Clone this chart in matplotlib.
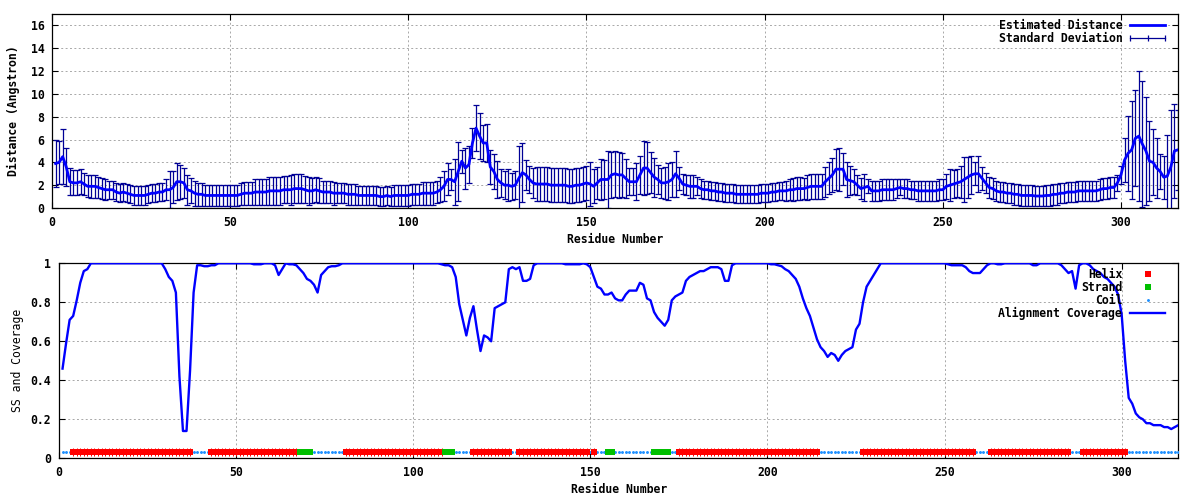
import numpy as np
import matplotlib
matplotlib.use('Agg')
import matplotlib.pyplot as plt
from matplotlib.lines import Line2D
from matplotlib.legend_handler import HandlerLine2D
from matplotlib.ticker import FuncFormatter

plt.rcParams['font.family'] = ['DejaVu Sans Mono']
plt.rcParams['font.weight'] = 'bold'
plt.rcParams['axes.labelweight'] = 'bold'
plt.rcParams['font.size'] = 8.3

# per residue data (residue 1..316)
residues = np.arange(1, 317)

distance = [
    3.9, 4.0, 4.5, 3.6, 2.3, 2.2, 2.2, 2.3, 2.1, 1.9,
    1.9, 1.9, 1.8, 1.7, 1.6, 1.6, 1.6, 1.4, 1.3, 1.4,
    1.3, 1.2, 1.1, 1.1, 1.1, 1.1, 1.2, 1.3, 1.3, 1.4,
    1.4, 1.6, 1.6, 1.8, 2.3, 2.3, 2.2, 1.6, 1.5, 1.3,
    1.2, 1.2, 1.1, 1.1, 1.1, 1.1, 1.1, 1.1, 1.1, 1.1,
    1.1, 1.1, 1.2, 1.3, 1.3, 1.3, 1.4, 1.4, 1.4, 1.4,
    1.5, 1.5, 1.5, 1.5, 1.6, 1.6, 1.6, 1.7, 1.7, 1.7,
    1.6, 1.5, 1.5, 1.6, 1.5, 1.4, 1.4, 1.4, 1.3, 1.3,
    1.3, 1.3, 1.2, 1.2, 1.2, 1.1, 1.1, 1.1, 1.1, 1.1,
    1.1, 1.0, 1.0, 1.1, 1.0, 1.1, 1.1, 1.1, 1.1, 1.1,
    1.2, 1.2, 1.2, 1.3, 1.3, 1.3, 1.3, 1.4, 1.6, 1.9,
    2.5, 2.5, 2.3, 3.2, 4.1, 3.5, 3.8, 5.7, 7.0, 6.3,
    5.7, 5.7, 3.6, 3.2, 2.5, 2.2, 2.0, 2.0, 1.9, 2.0,
    2.6, 3.1, 2.9, 2.5, 2.2, 2.1, 2.1, 2.1, 2.1, 2.0,
    2.0, 2.0, 2.0, 2.0, 1.9, 1.9, 2.0, 2.0, 2.1, 2.2,
    2.1, 1.9, 2.2, 2.5, 2.5, 2.5, 2.9, 3.0, 2.9, 2.9,
    2.6, 2.3, 2.3, 2.3, 2.9, 3.5, 3.5, 3.1, 2.7, 2.5,
    2.2, 2.2, 2.3, 2.5, 3.0, 2.6, 2.1, 2.0, 1.9, 1.9,
    1.9, 1.7, 1.6, 1.6, 1.5, 1.5, 1.4, 1.4, 1.3, 1.3,
    1.3, 1.2, 1.2, 1.2, 1.2, 1.2, 1.2, 1.2, 1.3, 1.3,
    1.3, 1.4, 1.4, 1.5, 1.5, 1.5, 1.6, 1.6, 1.7, 1.7,
    1.7, 1.8, 1.9, 1.9, 1.9, 1.9, 2.3, 2.6, 2.9, 3.4,
    3.4, 3.4, 2.5, 2.4, 2.3, 2.0, 1.7, 1.8, 1.9, 1.5,
    1.5, 1.5, 1.6, 1.6, 1.6, 1.6, 1.7, 1.8, 1.7, 1.7,
    1.6, 1.6, 1.5, 1.5, 1.5, 1.5, 1.5, 1.5, 1.6, 1.6,
    1.9, 2.0, 2.1, 2.2, 2.3, 2.5, 2.7, 2.9, 3.0, 3.0,
    2.6, 2.2, 1.8, 1.7, 1.5, 1.4, 1.4, 1.3, 1.3, 1.2,
    1.2, 1.1, 1.1, 1.1, 1.1, 1.05, 1.05, 1.05, 1.1, 1.1,
    1.2, 1.2, 1.3, 1.3, 1.4, 1.4, 1.4, 1.5, 1.5, 1.5,
    1.5, 1.5, 1.5, 1.6, 1.7, 1.7, 1.8, 1.8, 2.2, 2.9,
    4.2, 4.8, 5.1, 6.1, 6.3, 5.6, 5.0, 4.1, 4.0, 3.5,
    3.2, 2.7, 2.8, 3.6, 5.0, 5.1,
]

std_dev = [
    2.1, 1.9, 2.4, 1.7, 1.2, 1.1, 1.1, 1.1, 1.0, 0.95,
    1.0, 1.0, 0.9, 0.9, 0.9, 0.8, 0.8, 0.8, 0.8, 0.8,
    0.8, 0.8, 0.8, 0.8, 0.8, 0.8, 0.8, 0.8, 0.8, 0.8,
    0.8, 0.9, 1.6, 1.4, 1.6, 1.5, 1.3, 1.3, 1.1, 1.1,
    1.0, 1.0, 0.9, 0.9, 0.9, 0.9, 0.9, 0.9, 0.9, 0.9,
    0.95, 0.95, 0.95, 1.0, 1.0, 1.0, 1.1, 1.1, 1.1, 1.1,
    1.2, 1.2, 1.2, 1.2, 1.2, 1.2, 1.3, 1.3, 1.3, 1.3,
    1.2, 1.2, 1.1, 1.1, 1.1, 1.0, 1.0, 1.0, 1.0, 0.9,
    0.9, 0.9, 0.9, 0.9, 0.9, 0.8, 0.8, 0.8, 0.8, 0.8,
    0.8, 0.8, 0.8, 0.8, 0.8, 0.9, 0.9, 0.9, 0.9, 0.9,
    0.9, 0.9, 0.9, 1.0, 1.0, 1.0, 1.0, 1.0, 1.1, 1.3,
    1.4, 0.9, 2.0, 2.6, 1.0, 1.8, 1.6, 1.3, 2.0, 2.0,
    1.6, 1.7, 1.5, 1.5, 1.6, 1.2, 1.2, 1.4, 1.2, 1.2,
    2.8, 2.6, 1.3, 1.2, 1.3, 1.5, 1.5, 1.5, 1.5, 1.5,
    1.5, 1.5, 1.5, 1.5, 1.5, 1.5, 1.5, 1.5, 1.5, 1.5,
    1.9, 1.5, 1.4, 1.8, 1.7, 2.5, 2.0, 2.0, 2.0, 1.9,
    1.7, 1.2, 1.2, 1.6, 1.7, 2.4, 2.3, 1.8, 1.7, 1.3,
    1.3, 1.4, 1.6, 1.5, 2.0, 1.0, 0.9, 0.9, 1.0, 1.0,
    0.8, 0.8, 0.8, 0.8, 0.8, 0.8, 0.8, 0.8, 0.8, 0.8,
    0.8, 0.8, 0.8, 0.8, 0.8, 0.8, 0.8, 0.8, 0.8, 0.8,
    0.8, 0.8, 0.8, 0.8, 0.8, 0.9, 0.9, 1.0, 1.0, 1.0,
    0.9, 1.1, 1.1, 1.1, 1.1, 1.1, 1.3, 1.4, 1.5, 1.8,
    1.9, 1.4, 1.5, 1.3, 1.1, 0.9, 0.9, 1.2, 0.6, 0.9,
    0.9, 0.9, 0.9, 0.9, 0.9, 0.9, 0.8, 0.7, 0.8, 0.8,
    0.8, 0.8, 0.9, 0.9, 0.9, 0.9, 0.9, 0.9, 0.9, 0.9,
    1.1, 1.4, 1.2, 1.2, 1.4, 2.0, 1.8, 1.7, 1.0, 1.6,
    1.0, 0.9, 0.9, 0.9, 0.9, 0.9, 0.9, 0.9, 0.9, 0.9,
    0.9, 0.9, 0.9, 0.9, 0.9, 0.9, 0.9, 0.9, 0.9, 0.9,
    0.9, 0.9, 0.9, 0.9, 0.9, 0.9, 0.9, 0.9, 0.9, 0.9,
    0.9, 0.9, 0.9, 0.9, 0.9, 0.9, 0.9, 0.9, 0.7, 0.8,
    1.9, 3.3, 4.3, 4.2, 5.7, 5.5, 4.7, 3.5, 2.9, 2.6,
    1.5, 1.9, 3.6, 5.0, 4.1, 3.5,
]

coverage = [
    0.46, 0.59, 0.71, 0.73, 0.81, 0.90, 0.96, 0.97, 1.0, 1.0,
    1.0, 1.0, 1.0, 1.0, 1.0, 1.0, 1.0, 1.0, 1.0, 1.0,
    1.0, 1.0, 1.0, 1.0, 1.0, 1.0, 1.0, 1.0, 1.0, 0.97,
    0.93, 0.91, 0.85, 0.42, 0.14, 0.14, 0.45, 0.85, 0.99, 0.99,
    0.985, 0.985, 0.99, 0.99, 1.0, 1.0, 1.0, 1.0, 1.0, 1.0,
    1.0, 1.0, 1.0, 1.0, 0.995, 0.995, 0.995, 1.0, 1.0, 1.0,
    0.99, 0.94, 0.97, 1.0, 0.995, 0.995, 0.99, 0.97, 0.95, 0.92,
    0.91, 0.89, 0.85, 0.94, 0.96, 0.98, 0.985, 0.985, 0.99, 1.0,
    1.0, 1.0, 1.0, 1.0, 1.0, 1.0, 1.0, 1.0, 1.0, 1.0,
    1.0, 1.0, 1.0, 1.0, 1.0, 1.0, 1.0, 1.0, 1.0, 1.0,
    1.0, 1.0, 1.0, 1.0, 1.0, 1.0, 1.0, 0.995, 0.99, 0.99,
    0.98, 0.93, 0.79, 0.71, 0.63, 0.72, 0.78, 0.66, 0.55, 0.63,
    0.62, 0.60, 0.77, 0.78, 0.79, 0.80, 0.97, 0.98, 0.97, 0.98,
    0.91, 0.91, 0.92, 0.99, 1.0, 1.0, 1.0, 1.0, 1.0, 1.0,
    1.0, 1.0, 0.995, 0.995, 0.995, 0.995, 0.995, 1.0, 0.995, 0.98,
    0.93, 0.88, 0.87, 0.84, 0.84, 0.85, 0.82, 0.81, 0.81, 0.84,
    0.86, 0.86, 0.86, 0.90, 0.89, 0.82, 0.81, 0.75, 0.72, 0.70,
    0.68, 0.71, 0.81, 0.83, 0.84, 0.85, 0.91, 0.93, 0.94, 0.95,
    0.96, 0.96, 0.97, 0.98, 0.98, 0.98, 0.97, 0.91, 0.91, 0.99,
    1.0, 1.0, 1.0, 1.0, 1.0, 1.0, 1.0, 1.0, 1.0, 1.0,
    0.995, 0.995, 0.99, 0.985, 0.97, 0.96, 0.94, 0.92, 0.88, 0.82,
    0.77, 0.73, 0.67, 0.61, 0.57, 0.55, 0.52, 0.54, 0.53, 0.50,
    0.53, 0.55, 0.56, 0.57, 0.66, 0.69, 0.80, 0.88, 0.91, 0.94,
    0.97, 1.0, 1.0, 1.0, 1.0, 1.0, 1.0, 1.0, 1.0, 1.0,
    1.0, 1.0, 1.0, 1.0, 1.0, 1.0, 1.0, 1.0, 1.0, 1.0,
    0.995, 0.99, 0.99, 0.99, 0.99, 0.98, 0.96, 0.95, 0.95, 0.95,
    0.97, 0.99, 1.0, 1.0, 0.995, 0.995, 1.0, 1.0, 1.0, 1.0,
    1.0, 1.0, 1.0, 1.0, 0.99, 0.99, 1.0, 1.0, 1.0, 1.0,
    1.0, 1.0, 0.99, 0.97, 0.95, 0.96, 0.87, 0.99, 1.0, 1.0,
    0.99, 0.97, 0.96, 0.95, 0.93, 0.92, 0.90, 0.88, 0.84, 0.74,
    0.50, 0.31, 0.28, 0.23, 0.21, 0.20, 0.18, 0.18, 0.17, 0.17,
    0.17, 0.16, 0.16, 0.15, 0.16, 0.17,
]

# secondary structure: (first residue, last residue, type)
ss_segments = [
    (1, 3, 'C'), (4, 37, 'H'), (38, 42, 'C'), (43, 67, 'H'), (68, 71, 'E'),
    (72, 80, 'C'), (81, 108, 'H'), (109, 111, 'E'), (112, 116, 'C'),
    (117, 127, 'H'), (128, 129, 'C'), (130, 149, 'H'), (150, 150, 'C'),
    (151, 151, 'H'), (152, 154, 'C'), (155, 156, 'E'), (157, 167, 'C'),
    (168, 172, 'E'), (173, 174, 'C'), (175, 214, 'H'), (215, 226, 'C'),
    (227, 258, 'H'), (259, 262, 'C'), (263, 285, 'H'), (286, 288, 'C'),
    (289, 301, 'H'), (302, 316, 'C'),
]
ss_level = 0.03

ss = np.empty(len(residues), dtype='<U1')
for a, b, t in ss_segments:
    ss[a - 1:b] = t

FIG_W, FIG_H = 1200, 500
fig = plt.figure(figsize=(12, 5), dpi=100)
ax1 = fig.add_axes([52 / FIG_W, 1 - 208 / FIG_H, 1126 / FIG_W, 194 / FIG_H])
ax2 = fig.add_axes([59 / FIG_W, 1 - 458.3 / FIG_H, 1119.3 / FIG_W, 195 / FIG_H])

grid_kw = dict(color='#a8a8a8', linestyle=(0, (2.0, 2.5)), linewidth=0.7)

# ---- top panel: distance
ax1.errorbar(residues, distance, yerr=std_dev, fmt='none', ecolor='#000096',
             elinewidth=0.9, capsize=2.5, capthick=0.9, zorder=2)
dist_line, = ax1.plot(residues, distance, color='#0000ff', lw=2.0, zorder=3,
                      label='Estimated Distance')
sd_proxy = Line2D([], [], color='#000096', lw=0.9, marker='|', markersize=4,
                  markeredgewidth=0.9, label='Standard Deviation')

ax1.set_xlim(0, 316)
ax1.set_ylim(0, 17)
ax1.set_xticks(np.arange(0, 301, 50))
ax1.set_yticks(np.arange(0, 17, 2))
ax1.set_xlabel('Residue Number', labelpad=3)
ax1.set_ylabel('Distance (Angstron)', labelpad=8)
ax1.legend(handles=[dist_line, sd_proxy], loc='upper right',
           bbox_to_anchor=(0.9885, 0.973), frameon=False, markerfirst=False,
           borderpad=0, borderaxespad=0, labelspacing=0, handlelength=3.0,
           handletextpad=0.7,
           handler_map={sd_proxy: HandlerLine2D(numpoints=3, marker_pad=0)})

# ---- bottom panel: SS and coverage
helix_x = residues[ss == 'H']
strand_x = residues[ss == 'E']
coil_x = residues[ss == 'C']

coil_pts, = ax2.plot(coil_x, np.full(len(coil_x), ss_level), linestyle='none',
                     marker='o', markersize=1.1, color='#1e90ff', zorder=3,
                     label='Coil')
helix_pts, = ax2.plot(helix_x, np.full(len(helix_x), ss_level), linestyle='none',
                      marker='s', markersize=4.0, markeredgewidth=0, color='#ff0000',
                      zorder=3, label='Helix')
ax2.plot(helix_x, np.full(len(helix_x), ss_level), linestyle='none', marker='|',
         markersize=5.8, markeredgewidth=0.7, color='#ff0000', zorder=3)
strand_pts, = ax2.plot(strand_x, np.full(len(strand_x), ss_level), linestyle='none',
                       marker='s', markersize=5.0, markeredgewidth=0,
                       color='#00c000', zorder=3, label='Strand')
cov_line, = ax2.plot(residues, coverage, color='#0000ff', lw=1.7, zorder=4,
                     label='Alignment Coverage')

ax2.set_xlim(0, 316)
ax2.set_ylim(0, 1)
ax2.set_xticks(np.arange(0, 301, 50))
ax2.set_yticks(np.arange(0, 1.01, 0.2))
ax2.yaxis.set_major_formatter(FuncFormatter(lambda v, p: f'{v:g}'))
ax2.set_xlabel('Residue Number', labelpad=3)
ax2.set_ylabel('SS and Coverage', labelpad=5, fontweight='normal')
ax2.legend(handles=[helix_pts, strand_pts, coil_pts, cov_line], loc='upper right',
           bbox_to_anchor=(0.988, 0.974), frameon=False, markerfirst=False,
           borderpad=0, borderaxespad=0, labelspacing=0, handlelength=3.0,
           handletextpad=0.7, numpoints=1)

for ax in (ax1, ax2):
    ax.grid(True, **grid_kw)
    ax.set_axisbelow(True)
    ax.tick_params(direction='in', length=4, width=0.8, top=True, right=True,
                   pad=5.5)
    for s in ax.spines.values():
        s.set_linewidth(0.9)

fig.savefig('out.png', dpi=100)
